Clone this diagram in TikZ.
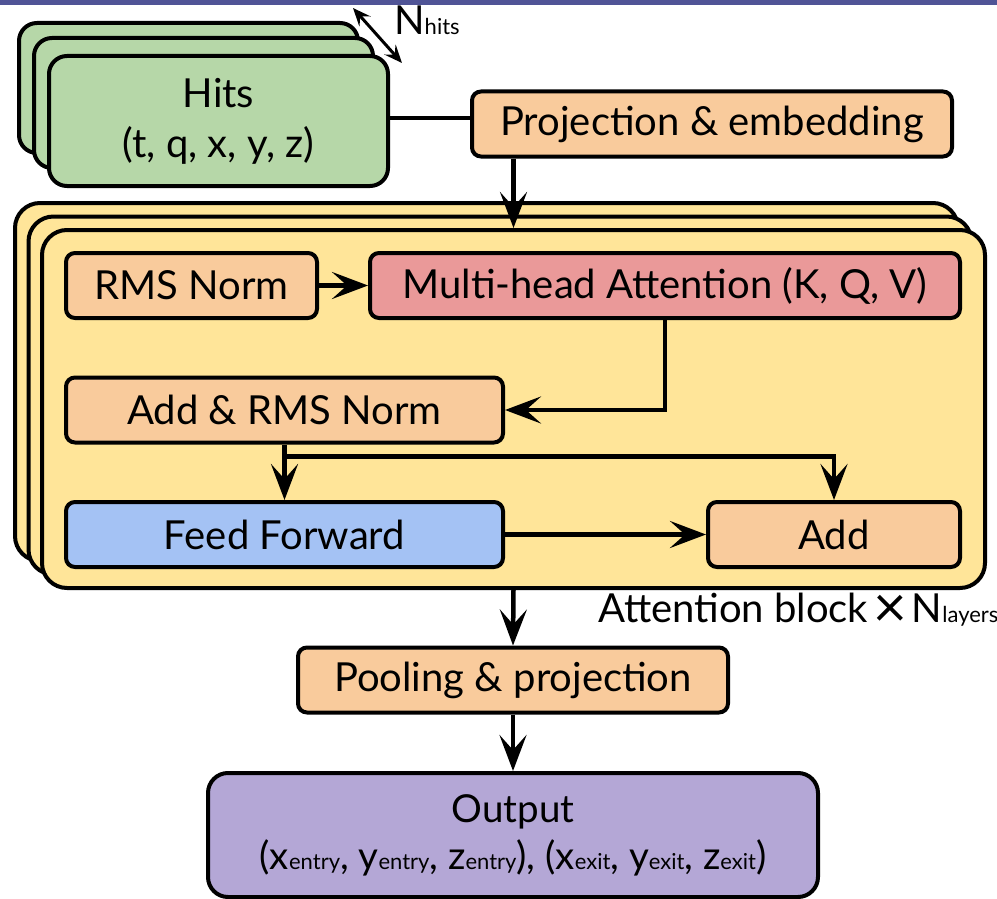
\documentclass[tikz,border=0pt]{standalone}
\usepackage{fontspec}
\setmainfont{Lato}
\usepackage{tikz}
\usetikzlibrary{arrows.meta, positioning}
\definecolor{topbar}{RGB}{80,84,150}
\definecolor{hitgreen}{HTML}{B6D7A8}
\definecolor{normorange}{HTML}{F9CB9C}
\definecolor{attyellow}{HTML}{FFE599}
\definecolor{attred}{HTML}{EA9999}
\definecolor{ffblue}{HTML}{A4C2F4}
\definecolor{outpurple}{HTML}{B4A7D6}
\newcommand{\lowtxt}[1]{{\fontsize{22}{22}\selectfont #1}}
\newcommand{\bigtimes}{\raisebox{-0.13em}{\scalebox{1.45}{×}}}
\tikzstyle{box}=[rectangle, draw=black, line width=4pt, rounded corners=9pt, inner sep=0pt, align=center, font=\fontsize{40}{50}\selectfont]
\tikzstyle{stepbox}=[box, fill=normorange, minimum height=65pt]
\tikzstyle{hitcard}=[box, fill=hitgreen, minimum width=339pt, minimum height=130pt, rounded corners=18pt]
\tikzstyle{layer}=[rectangle, draw=black, line width=4pt, rounded corners=25pt, fill=attyellow, minimum width=943pt, minimum height=358pt]
\tikzstyle{flow}=[line width=4.5pt, -{Stealth[length=36pt, width=27pt, inset=15pt]}]

\begin{document}
\begin{tikzpicture}[x=1pt, y=-1pt]
  \useasboundingbox (0,0) rectangle (997,899);
  \fill[topbar] (0,0) rectangle (997,5);

  % input hits, stacked
  \node[hitcard] (hitsb) at (188.5,88) {};
  \node[hitcard] (hitsm) at (203.5,103) {};
  \node[hitcard] (hitsf) at (218.5,121) {Hits\\(t, q, x, y, z)};
  \coordinate (nhA) at (353,8);
  \coordinate (nhB) at (402,63);
  \draw[line width=3pt, {Stealth[length=18pt, width=15pt, inset=7pt]}-{Stealth[length=18pt, width=15pt, inset=7pt]}] (nhA) -- (nhB);
  \node[anchor=base west, inner sep=0pt, font=\fontsize{40}{50}\selectfont] (nhits) at (394,35) {N\lowtxt{hits}};

  \node[stepbox, minimum width=480pt] (proj) at (712,124) {Projection \& embedding};

  % attention block, stacked
  \node[layer] (attb) at (486.5,382) {};
  \node[layer] (attm) at (500,395.5) {};
  \node[layer] (attf) at (513.5,409) {};
  \node[anchor=base west, inner sep=0pt, font=\fontsize{40}{50}\selectfont] (attlbl) at (598,622)
    {Attention block\hspace{5pt}\bigtimes\hspace{5pt}N\lowtxt{layers}};

  \node[stepbox, minimum width=251pt] (rms) at (191.5,285.5) {RMS Norm};
  \node[box, fill=attred, minimum width=590pt, minimum height=65pt] (mha) at (665,285.5) {Multi-head Attention (K, Q, V)};
  \node[stepbox, minimum width=437pt] (addrms) at (284.5,410) {Add \& RMS Norm};
  \node[box, fill=ffblue, minimum width=437pt, minimum height=65pt] (ff) at (284.5,534.5) {Feed Forward};
  \node[stepbox, minimum width=252pt] (add) at (834,534.5) {Add};

  \node[stepbox, minimum width=430pt] (pool) at (513,680) {Pooling \& projection};
  \node[box, fill=outpurple, minimum width=610pt, minimum height=124pt, rounded corners=20pt, font=\fontsize{38.5}{47}\selectfont] (out) at (513,835)
    {Output\\(x\lowtxt{entry}, y\lowtxt{entry}, z\lowtxt{entry}), (x\lowtxt{exit}, y\lowtxt{exit}, z\lowtxt{exit})};

  % connectors
  \draw[line width=4.5pt] (hitsf.east |- 0,118) -- (proj.west |- 0,118);
  \draw[flow] (proj.south -| attf.north) -- (attf.north);
  \draw[flow] (rms) -- (mha);
  \draw[flow] (mha.south) |- (addrms.east);
  \draw[flow] (addrms.south) -- (ff.north);
  \draw[flow] ([yshift=-12pt]addrms.south) -| (add.north);
  \draw[flow] (ff) -- (add);
  \draw[flow] (attf.south) -- (pool.north);
  \draw[flow] (pool) -- (out);
\end{tikzpicture}
\end{document}
